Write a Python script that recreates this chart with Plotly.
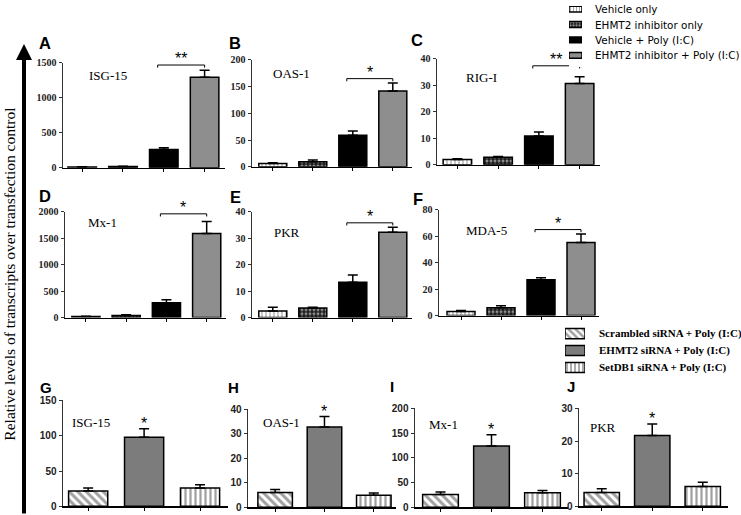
import plotly.graph_objects as go

W, H = 741, 515
# measured render correction (screenshot maps paper pixel y -> Y0 + SY*y)
Y0, SY = 5.0, 0.98

# ---------------- data ----------------
top_groups = ["Vehicle only", "EHMT2 inhibitor only", "Vehicle + Poly (I:C)", "EHMT2 inhibitor + Poly (I:C)"]
bottom_groups = ["Scrambled siRNA + Poly (I:C)", "EHMT2 siRNA + Poly (I:C)", "SetDB1 siRNA + Poly (I:C)"]

top_genes = ["ISG-15", "OAS-1", "RIG-I", "Mx-1", "PKR", "MDA-5"]
top_letters = ["A", "B", "C", "D", "E", "F"]
isg15_top = [12, 18, 262, 1295]
isg15_top_err = [3, 5, 25, 100]
oas1_top = [6, 9.5, 59, 142]
oas1_top_err = [1.5, 3, 8, 15]
rigi_top = [2, 2.8, 10.9, 30.7]
rigi_top_err = [0.3, 0.3, 1.5, 2.6]
mx1_top = [20, 40, 280, 1590]
mx1_top_err = [5, 15, 55, 225]
pkr_top = [2.5, 3.6, 13.3, 32.2]
pkr_top_err = [1.4, 0.3, 2.8, 1.9]
mda5_top = [3.0, 6.0, 27, 55.3]
mda5_top_err = [0.8, 1.5, 1.5, 6.3]
top_values = [isg15_top, oas1_top, rigi_top, mx1_top, pkr_top, mda5_top]
top_errors = [isg15_top_err, oas1_top_err, rigi_top_err, mx1_top_err, pkr_top_err, mda5_top_err]
top_ymax = [1500, 200, 40, 2000, 40, 80]
top_dtick = [500, 50, 10, 500, 10, 20]
top_sig = ["**", "*", "**", "*", "*", "*"]
top_bracket = [1470, 165, 37.4, 1960, 35.8, 65]

bottom_genes = ["ISG-15", "OAS-1", "Mx-1", "PKR"]
bottom_letters = ["G", "H", "I", "J"]
isg15_bot = [21.7, 98, 26]
isg15_bot_err = [4.2, 12, 4.5]
oas1_bot = [6.0, 32.8, 4.9]
oas1_bot_err = [1.3, 4.3, 0.9]
mx1_bot = [26, 124, 29.6]
mx1_bot_err = [5, 23, 4.5]
pkr_bot = [4.2, 21.7, 6.1]
pkr_bot_err = [1.2, 3.5, 1.3]
bottom_values = [isg15_bot, oas1_bot, mx1_bot, pkr_bot]
bottom_errors = [isg15_bot_err, oas1_bot_err, mx1_bot_err, pkr_bot_err]
bottom_ymax = [150, 40, 200, 30]
bottom_dtick = [50, 10, 50, 10]
bottom_sig = ["*", "*", "*", "*"]

y_title = "Relative levels of transcripts over transfection control"

# ---------------- styles ----------------
top_colors = ["white", "#1a1a1a", "black", "#8e8e8e"]
top_shapes = ["|", ".", "", ""]
top_fg = ["#a0a0a0", "white", "black", "black"]
top_sol = [0.3, 0.45, 0.3, 0.3]
top_size = [4, 4, 6, 6]

bot_colors = ["white", "#7c7c7c", "white"]
bot_shapes = ["\\", "", "|"]
bot_fg = ["black", "black", "black"]
bot_sol = [0.5, 0.3, 0.45]
bot_size = [6, 6, 5]

# pixel boxes: x0, x1, ytop, ybot, range lo, range hi
top_boxes = [
    (63, 225, 62, 167, -0.47, 3.5),
    (252, 412, 59, 166, -0.52, 3.48),
    (437, 600, 58, 164, -0.5, 3.5),
    (65, 226, 211, 317, -0.52, 3.48),
    (252, 412, 211, 317, -0.52, 3.48),
    (439, 599, 209, 315, -0.55, 3.45),
]
bottom_boxes = [
    (63, 228, 400, 506, -0.45, 2.5),
    (248, 396, 409, 507, -0.55, 2.45),
    (415, 568, 408, 507, -0.5, 2.5),
    (579, 728, 408, 506, -0.45, 2.5),
]
top_gene_pos = [(108, 75), (291, 73), (481, 77), (102, 222), (287, 232), (486, 230)]
top_letter_pos = [(45, 42), (235, 42), (417, 39), (45, 195), (235, 196), (418, 198)]
bottom_gene_pos = [(91, 422), (281, 422), (443, 424), (603, 427)]
bottom_letter_pos = [(46, 387), (233, 387), (392, 386), (571, 386)]


def px(x):
    return x / W


def py(y):
    v = 1 - ((y - Y0) / SY) / H
    return v


def pyd(y):
    return min(1.0, max(0.0, py(y)))


fig = go.Figure()
layout = {}
annotations = []

serif_b = dict(family="Liberation Serif", size=10, color="#222", weight="bold")
sans_b = dict(family="Liberation Sans", size=10, color="#222", weight="bold")

ax_i = 0


def add_panel(vals, errs, box, ymax, dtick, colors, shapes, fg, sol, size, tickfont):
    global ax_i
    ax_i += 1
    n = ax_i
    xa = "x" if n == 1 else f"x{n}"
    ya = "y" if n == 1 else f"y{n}"
    x0, x1, yt, yb, rlo, rhi = box
    cats = list(range(len(vals)))
    fig.add_trace(go.Bar(
        x=cats, y=vals, xaxis=xa, yaxis=ya, width=0.7,
        marker=dict(color=colors, line=dict(color="black", width=1.5),
                    pattern=dict(shape=shapes, fgcolor=fg, solidity=sol, size=size)),
        error_y=dict(type="data", array=errs, arrayminus=[0] * len(errs),
                     color="black", thickness=1.5, width=5),
        showlegend=False,
    ))
    layout[f"xaxis{'' if n == 1 else n}"] = dict(
        domain=[px(x0), px(x1)], range=[rlo, rhi], anchor=ya,
        showline=True, linecolor="black", linewidth=1.5,
        ticks="outside", tickvals=cats, ticklen=3, tickcolor="black",
        showticklabels=False, showgrid=False, zeroline=False, fixedrange=True)
    layout[f"yaxis{'' if n == 1 else n}"] = dict(
        domain=[pyd(yb), pyd(yt)], range=[0, ymax], anchor=xa,
        showline=True, linecolor="#333", linewidth=1.5,
        ticks="outside", dtick=dtick, tick0=0, ticklen=3, tickcolor="#333",
        tickfont=tickfont, showgrid=False, zeroline=False, fixedrange=True)
    return xa, ya


def text_ann(x, y, text, font, **kw):
    d = dict(x=px(x), y=py(y), xref="paper", yref="paper", text=text, showarrow=False,
             xanchor="center", yanchor="middle", font=font)
    d.update(kw)
    annotations.append(d)


for i in range(6):
    xa, ya = add_panel(top_values[i], top_errors[i], top_boxes[i], top_ymax[i], top_dtick[i],
                       top_colors, top_shapes, top_fg, top_sol, top_size, serif_b)
    b = top_bracket[i]
    d = top_ymax[i] * 0.025
    fig.add_trace(go.Scatter(x=[1.85, 1.85, 3.0, 3.0], y=[b - d, b, b, b - d], mode="lines",
                             line=dict(color="black", width=1), xaxis=xa, yaxis=ya,
                             showlegend=False, hoverinfo="skip"))
    annotations.append(dict(x=2.42, y=b, xref=xa, yref=ya, text=top_sig[i], showarrow=False,
                            xanchor="center", yanchor="bottom", yshift=-4,
                            font=dict(family="Liberation Sans", size=16, color="black")))
    gx, gy = top_gene_pos[i]
    text_ann(gx, gy, top_genes[i], dict(family="Liberation Serif", size=13, color="black"))
    lx, ly = top_letter_pos[i]
    text_ann(lx, ly, top_letters[i], dict(family="Liberation Sans", size=16.5, color="black", weight="bold"))

for i in range(4):
    xa, ya = add_panel(bottom_values[i], bottom_errors[i], bottom_boxes[i], bottom_ymax[i], bottom_dtick[i],
                       bot_colors, bot_shapes, bot_fg, bot_sol, bot_size, sans_b)
    top = bottom_values[i][1] + bottom_errors[i][1]
    annotations.append(dict(x=1, y=top, xref=xa, yref=ya, text=bottom_sig[i], showarrow=False,
                            xanchor="center", yanchor="bottom", yshift=-5,
                            font=dict(family="Liberation Sans", size=16, color="black")))
    gx, gy = bottom_gene_pos[i]
    text_ann(gx, gy, bottom_genes[i], dict(family="Liberation Serif", size=13, color="black"))
    lx, ly = bottom_letter_pos[i]
    text_ann(lx, ly, bottom_letters[i], dict(family="Liberation Sans", size=15, color="black", weight="bold"))


# ---------------- legends (icons as small horizontal bars) ----------------
def add_legend(groups, colors, shapes, fg, sol, size, xbox, ybox, rng, barw, text_x, font):
    global ax_i
    ax_i += 1
    n = ax_i
    xa, ya = f"x{n}", f"y{n}"
    cats = list(range(len(groups)))
    fig.add_trace(go.Bar(
        y=cats, x=[1] * len(groups), orientation="h", xaxis=xa, yaxis=ya, width=barw,
        marker=dict(color=colors, line=dict(color="black", width=1.5),
                    pattern=dict(shape=shapes, fgcolor=fg, solidity=sol, size=size)),
        showlegend=False, hoverinfo="skip"))
    layout[f"xaxis{n}"] = dict(domain=[px(xbox[0]), px(xbox[1])], range=[0, 1], visible=False,
                               anchor=ya, fixedrange=True)
    layout[f"yaxis{n}"] = dict(domain=[pyd(ybox[1]), pyd(ybox[0])], range=rng, visible=False,
                               anchor=xa, fixedrange=True)
    for k, g in enumerate(groups):
        annotations.append(dict(x=px(text_x), y=k, xref="paper", yref=ya, text=g, showarrow=False,
                                xanchor="left", yanchor="middle", font=font))


add_legend(top_groups, top_colors, top_shapes, top_fg, top_sol, [3, 3, 6, 6],
           (569, 582), (5, 66), [3.75, -0.2], 0.38, 593,
           dict(family="DejaVu Sans", size=10.4, color="black"))
add_legend(bottom_groups, bot_colors, bot_shapes, bot_fg, bot_sol, [5, 6, 4],
           (565, 585), (325, 376), [2.53, -0.47], 0.6, 597,
           dict(family="Liberation Serif", size=11, color="black", weight="bold"))

# ---------------- y-title and arrow ----------------
text_ann(10, 274, y_title, dict(family="Liberation Serif", size=15.5, color="black"), textangle=-90)
annotations.append(dict(x=px(24), y=py(43), xref="paper", yref="paper", text="", showarrow=True,
                        ax=0, ay=463 / SY, axref="pixel", ayref="pixel", arrowhead=2, arrowsize=0.8,
                        arrowwidth=4, arrowcolor="black", standoff=0))

fig.update_layout(**layout)
fig.update_layout(width=W, height=H, margin=dict(l=0, r=0, t=0, b=0),
                  paper_bgcolor="white", plot_bgcolor="white", annotations=annotations,
                  bargap=0.3, hovermode=False)

fig.write_html(
    "out.html",
    config={"displayModeBar": False, "staticPlot": True},
    post_script=("document.body.style.margin='0';"
                 "document.body.style.overflow='hidden';"
                 "document.documentElement.style.overflow='hidden';"),
)
